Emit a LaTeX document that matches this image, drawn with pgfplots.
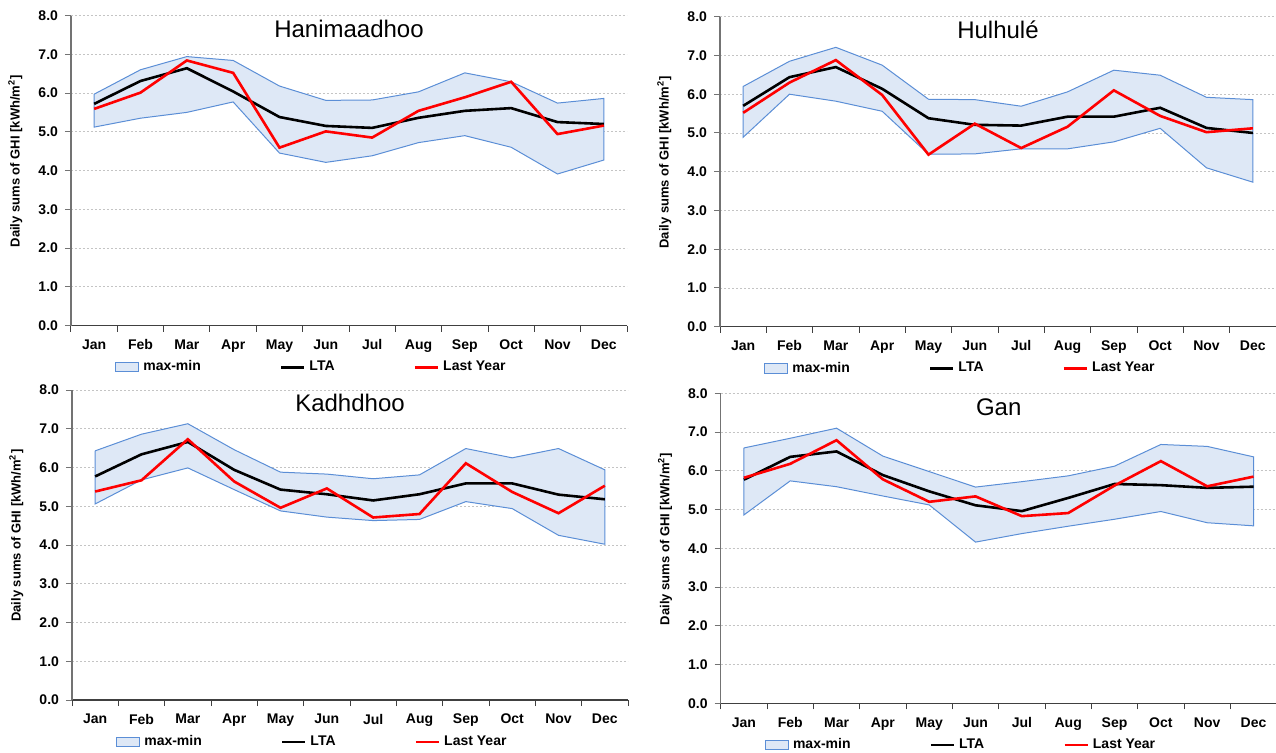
\documentclass[border=0pt]{standalone}
\usepackage{fontspec}
\setmainfont{Liberation Sans}
\usepackage{pgfplots}
\pgfplotsset{compat=1.18}
\usepackage{pgfplotstable}
\definecolor{bandfill}{HTML}{DEE8F6}
\definecolor{bandedge}{HTML}{5B8ED6}
\definecolor{gridc}{HTML}{C4C4C4}

% band outline: max (Jan..Dec), then min (Dec..Jan), closed at Jan
\pgfplotstableread{
x y
1 5.97
2 6.60
3 6.94
4 6.84
5 6.18
6 5.81
7 5.82
8 6.03
9 6.52
10 6.29
11 5.74
12 5.86
12 4.27
11 3.91
10 4.60
9 4.90
8 4.72
7 4.38
6 4.21
5 4.45
4 5.77
3 5.50
2 5.35
1 5.12
1 5.97
}\hanimband
\pgfplotstableread{
m lta last
1 5.72 5.59
2 6.31 6.01
3 6.64 6.84
4 6.04 6.52
5 5.38 4.59
6 5.15 5.01
7 5.10 4.85
8 5.36 5.54
9 5.54 5.89
10 5.61 6.29
11 5.25 4.94
12 5.20 5.16
}\hanim

\pgfplotstableread{
x y
1 6.20
2 6.85
3 7.21
4 6.75
5 5.87
6 5.86
7 5.69
8 6.06
9 6.62
10 6.49
11 5.92
12 5.86
12 3.73
11 4.10
10 5.12
9 4.77
8 4.59
7 4.59
6 4.46
5 4.45
4 5.56
3 5.82
2 6.00
1 4.89
1 6.20
}\hulhuband
\pgfplotstableread{
m lta last
1 5.70 5.52
2 6.44 6.30
3 6.70 6.88
4 6.14 5.98
5 5.38 4.44
6 5.21 5.24
7 5.19 4.61
8 5.42 5.16
9 5.42 6.10
10 5.65 5.44
11 5.13 5.02
12 5.00 5.12
}\hulhu

\pgfplotstableread{
x y
1 6.43
2 6.86
3 7.13
4 6.46
5 5.88
6 5.83
7 5.71
8 5.81
9 6.49
10 6.25
11 6.49
12 5.94
12 4.02
11 4.25
10 4.94
9 5.12
8 4.66
7 4.63
6 4.72
5 4.88
4 5.43
3 5.99
2 5.68
1 5.06
1 6.43
}\kadhband
\pgfplotstableread{
m lta last
1 5.77 5.38
2 6.34 5.67
3 6.66 6.73
4 5.94 5.64
5 5.43 4.96
6 5.31 5.46
7 5.15 4.71
8 5.31 4.80
9 5.59 6.11
10 5.59 5.37
11 5.30 4.82
12 5.18 5.53
}\kadh

\pgfplotstableread{
x y
1 6.59
2 6.84
3 7.10
4 6.38
5 5.98
6 5.58
7 5.72
8 5.87
9 6.12
10 6.68
11 6.63
12 6.36
12 4.58
11 4.66
10 4.95
9 4.75
8 4.57
7 4.38
6 4.16
5 5.12
4 5.35
3 5.59
2 5.74
1 4.86
1 6.59
}\ganband
\pgfplotstableread{
m lta last
1 5.77 5.82
2 6.36 6.18
3 6.50 6.79
4 5.89 5.78
5 5.47 5.20
6 5.11 5.34
7 4.96 4.83
8 5.30 4.91
9 5.66 5.62
10 5.63 6.25
11 5.56 5.60
12 5.59 5.85
}\gan

\pgfplotsset{
  ghi/.style={
    scale only axis, width=278pt, height=155pt,
    anchor=south west,
    xmin=0.5, xmax=12.5, ymin=0, ymax=8,
    axis x line*=bottom, axis y line*=left,
    x axis line style={draw=black!75, line width=0.6pt},
    y axis line style={draw=black!55, line width=0.6pt},
    xtick={1,...,12},
    xticklabels={Jan,Feb,Mar,Apr,May,Jun,Jul,Aug,Sep,Oct,Nov,Dec},
    major x tick style={draw=none},
    minor xtick={0.5,1.5,...,12.5},
    minor x tick style={draw=black!75, line width=0.5pt},
    minor tick length=3pt,
    major tick length=3pt,
    ytick={0,1,...,8},
    major y tick style={draw=black!55, line width=0.5pt},
    tick align=outside,
    no markers,
    ymajorgrids, grid style={dash pattern=on 1.2pt off 0.8pt, gridc, line width=0.4pt},
    /pgf/number format/assume math mode=true,
    yticklabel style={/pgf/number format/fixed, /pgf/number format/fixed zerofill, /pgf/number format/precision=1},
    tick label style={font=\bfseries\fontsize{7}{8}\selectfont},
    xticklabel style={yshift=-0.5pt},
    ylabel={Daily sums of GHI [kWh/m\textsuperscript{2}]},
    ylabel style={font=\bfseries\fontsize{6.5}{7}\selectfont, at={(axis description cs:-0.1,0.53)}, anchor=center},
    title style={at={(axis description cs:0.5,0.891)}, anchor=base, font=\fontsize{12}{14}\selectfont},
    legend columns=3,
    legend style={draw=none, fill=none, at={(axis description cs:0.079,-0.135)}, anchor=west,
      font=\bfseries\fontsize{7}{8}\selectfont, inner sep=0pt,
      /tikz/every even column/.append style={column sep=37.5pt}},
  },
  bandsty/.style={fill=bandfill, draw=bandedge, line width=0.5pt,
    legend image code/.code={\draw[fill=bandfill, draw=bandedge, line width=0.5pt] (0pt,-2.3pt) rectangle (11.5pt,2.3pt);}},
  ltasty/.style={black, line width=1.3pt,
    legend image code/.code={\draw[black, line width=1.3pt] (0pt,0pt) -- (11.5pt,0pt);}},
  laststy/.style={red, line width=1.3pt,
    legend image code/.code={\draw[red, line width=1.3pt] (0pt,0pt) -- (11.5pt,0pt);}},
}

\begin{document}
\begin{tikzpicture}
\useasboundingbox (0pt,0pt) rectangle (638pt,376pt);

\begin{axis}[ghi, at={(35.5pt,213.25pt)}, title={Hanimaadhoo}]
  \addplot[bandsty] table[x=x,y=y]{\hanimband};
  \addlegendentry{max-min}
  \addplot[ltasty] table[x=m,y=lta]{\hanim};
  \addlegendentry{LTA}
  \addplot[laststy] table[x=m,y=last]{\hanim};
  \addlegendentry{Last Year}
\end{axis}

\begin{axis}[ghi, at={(360pt,212.65pt)}, title={Hulhulé}]
  \addplot[bandsty] table[x=x,y=y]{\hulhuband};
  \addlegendentry{max-min}
  \addplot[ltasty] table[x=m,y=lta]{\hulhu};
  \addlegendentry{LTA}
  \addplot[laststy] table[x=m,y=last]{\hulhu};
  \addlegendentry{Last Year}
\end{axis}

\begin{axis}[ghi, at={(36pt,26pt)}, title={Kadhdhoo}]
  \addplot[bandsty] table[x=x,y=y]{\kadhband};
  \addlegendentry{max-min}
  \addplot[ltasty] table[x=m,y=lta]{\kadh};
  \addlegendentry{LTA}
  \addplot[laststy] table[x=m,y=last]{\kadh};
  \addlegendentry{Last Year}
\end{axis}

\begin{axis}[ghi, at={(360.35pt,24.35pt)}, title={Gan}]
  \addplot[bandsty] table[x=x,y=y]{\ganband};
  \addlegendentry{max-min}
  \addplot[ltasty] table[x=m,y=lta]{\gan};
  \addlegendentry{LTA}
  \addplot[laststy] table[x=m,y=last]{\gan};
  \addlegendentry{Last Year}
\end{axis}
\end{tikzpicture}
\end{document}
